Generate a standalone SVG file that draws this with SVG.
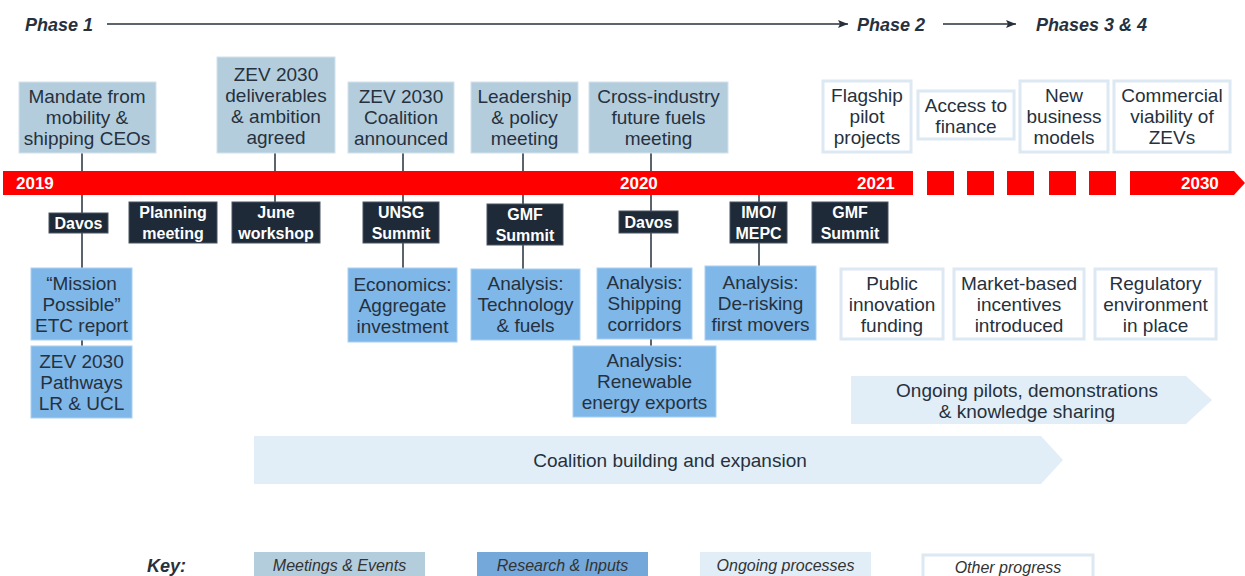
<svg xmlns="http://www.w3.org/2000/svg" width="1245" height="576" viewBox="0 0 1245 576">
<defs>
<style>
text{font-family:"Liberation Sans",Arial,sans-serif}
.ph{font-size:18px;font-weight:bold;font-style:italic;fill:#26313d}
.yr{font-size:17px;font-weight:bold;fill:#fff}
.nt{font-size:19px;fill:#26313d;text-anchor:middle}
.dt{font-size:16px;font-weight:bold;fill:#fff;text-anchor:middle}
.kt{font-size:16px;font-style:italic;fill:#333;text-anchor:middle}
.meet{fill:#b4cddd;stroke:#d3e2ec;stroke-width:1}
.res{fill:#7fb7e9;stroke:#a9cff2;stroke-width:1}
.dark{fill:#1e2a38;stroke:#4a5562;stroke-width:1}
.other{fill:#fff;stroke:#dce8f2;stroke-width:3}
.ong{fill:#e1eef7}
.bar{fill:#ff0000}
.con{stroke:#26313d;stroke-width:1.5;fill:none}
</style>
<marker id="ah" viewBox="0 0 10 10" refX="10" refY="5" markerWidth="10" markerHeight="10" markerUnits="userSpaceOnUse" orient="auto">
<path d="M0,1 L10,5 L0,9 L2,5 Z" fill="#26313d"/>
</marker>
</defs>

<g id="phases">
<text class="ph" x="25" y="31">Phase 1</text>
<line x1="107" y1="24" x2="848" y2="24" stroke="#26313d" stroke-width="1.5" marker-end="url(#ah)"/>
<text class="ph" x="857" y="31">Phase 2</text>
<line x1="943" y1="24" x2="1016" y2="24" stroke="#26313d" stroke-width="1.5" marker-end="url(#ah)"/>
<text class="ph" x="1036" y="31">Phases 3 &amp; 4</text>
</g>

<g id="connectors">
<path class="con" d="M82,153V213M82,233V268M82,340V346"/>
<path class="con" d="M275,153V202"/>
<path class="con" d="M403,153V202M403,243V268"/>
<path class="con" d="M523,153V204M523,245V269"/>
<path class="con" d="M651,153V211M651,233V268M651,339V346"/>
<path class="con" d="M759,183V202M759,243V266"/>
</g>

<g id="timeline">
<rect class="bar" x="3" y="171" width="910" height="24"/>
<rect class="bar" x="927" y="171" width="27" height="24"/>
<rect class="bar" x="967" y="171" width="27" height="24"/>
<rect class="bar" x="1007" y="171" width="27" height="24"/>
<rect class="bar" x="1049" y="171" width="27" height="24"/>
<rect class="bar" x="1089" y="171" width="27" height="24"/>
<polygon class="bar" points="1130,171 1234,171 1245,183 1234,195 1130,195"/>
<text class="yr" x="16" y="189">2019</text>
<text class="yr" x="620" y="189">2020</text>
<text class="yr" x="857" y="189">2021</text>
<text class="yr" x="1181" y="189">2030</text>
</g>

<g id="mandate"><rect class="meet" x="19" y="82" width="137" height="71"/>
<text class="nt" x="87" y="103">Mandate from</text><text class="nt" x="87" y="124">mobility &amp;</text><text class="nt" x="87" y="145">shipping CEOs</text></g>
<g id="zev-deliverables"><rect class="meet" x="217" y="57" width="118" height="96"/>
<text class="nt" x="276" y="81">ZEV 2030</text><text class="nt" x="276" y="102">deliverables</text><text class="nt" x="276" y="123">&amp; ambition</text><text class="nt" x="276" y="144">agreed</text></g>
<g id="coalition-announced"><rect class="meet" x="348" y="82" width="106" height="71"/>
<text class="nt" x="401" y="103">ZEV 2030</text><text class="nt" x="401" y="124">Coalition</text><text class="nt" x="401" y="145">announced</text></g>
<g id="leadership"><rect class="meet" x="471" y="82" width="107" height="71"/>
<text class="nt" x="524.5" y="103">Leadership</text><text class="nt" x="524.5" y="124">&amp; policy</text><text class="nt" x="524.5" y="145">meeting</text></g>
<g id="cross-industry"><rect class="meet" x="589" y="82" width="139" height="71"/>
<text class="nt" x="658.5" y="103">Cross-industry</text><text class="nt" x="658.5" y="124">future fuels</text><text class="nt" x="658.5" y="145">meeting</text></g>

<g id="flagship"><rect class="other" x="823" y="81" width="88" height="71"/>
<text class="nt" x="867" y="102">Flagship</text><text class="nt" x="867" y="123">pilot</text><text class="nt" x="867" y="144">projects</text></g>
<g id="access"><rect class="other" x="918" y="91" width="96" height="48"/>
<text class="nt" x="966" y="112">Access to</text><text class="nt" x="966" y="133">finance</text></g>
<g id="new-business"><rect class="other" x="1020" y="81" width="88" height="71"/>
<text class="nt" x="1064" y="102">New</text><text class="nt" x="1064" y="123">business</text><text class="nt" x="1064" y="144">models</text></g>
<g id="commercial"><rect class="other" x="1114" y="81" width="116" height="71"/>
<text class="nt" x="1172" y="102">Commercial</text><text class="nt" x="1172" y="123">viability of</text><text class="nt" x="1172" y="144">ZEVs</text></g>

<g id="davos-2019"><rect class="dark" x="49" y="213" width="59" height="20"/><text class="dt" x="78.5" y="229">Davos</text></g>
<g id="planning"><rect class="dark" x="129" y="202" width="88" height="41"/><text class="dt" x="173" y="217.5">Planning</text><text class="dt" x="173" y="238.5">meeting</text></g>
<g id="june"><rect class="dark" x="232" y="202" width="88" height="41"/><text class="dt" x="276" y="217.5">June</text><text class="dt" x="276" y="238.5">workshop</text></g>
<g id="unsg"><rect class="dark" x="363" y="202" width="76" height="41"/><text class="dt" x="401" y="217.5">UNSG</text><text class="dt" x="401" y="238.5">Summit</text></g>
<g id="gmf-2019"><rect class="dark" x="487" y="204" width="76" height="41"/><text class="dt" x="525" y="219.5">GMF</text><text class="dt" x="525" y="240.5">Summit</text></g>
<g id="davos-2020"><rect class="dark" x="619" y="211" width="59" height="22"/><text class="dt" x="648.5" y="227.5">Davos</text></g>
<g id="imo"><rect class="dark" x="730" y="202" width="57" height="41"/><text class="dt" x="758.5" y="217.5">IMO/</text><text class="dt" x="758.5" y="238.5">MEPC</text></g>
<g id="gmf-2021"><rect class="dark" x="812" y="202" width="76" height="41"/><text class="dt" x="850" y="217.5">GMF</text><text class="dt" x="850" y="238.5">Summit</text></g>

<g id="mission"><rect class="res" x="31" y="268" width="101" height="72"/>
<text class="nt" x="81.5" y="290">“Mission</text><text class="nt" x="81.5" y="311">Possible”</text><text class="nt" x="81.5" y="332">ETC report</text></g>
<g id="pathways"><rect class="res" x="31" y="346" width="101" height="72"/>
<text class="nt" x="81.5" y="368">ZEV 2030</text><text class="nt" x="81.5" y="389">Pathways</text><text class="nt" x="81.5" y="410">LR &amp; UCL</text></g>
<g id="economics"><rect class="res" x="348" y="268" width="109" height="74"/>
<text class="nt" x="402.5" y="291">Economics:</text><text class="nt" x="402.5" y="312">Aggregate</text><text class="nt" x="402.5" y="333">investment</text></g>
<g id="technology"><rect class="res" x="471" y="269" width="109" height="71"/>
<text class="nt" x="525.5" y="290">Analysis:</text><text class="nt" x="525.5" y="311">Technology</text><text class="nt" x="525.5" y="332">&amp; fuels</text></g>
<g id="shipping"><rect class="res" x="597" y="268" width="95" height="71"/>
<text class="nt" x="644.5" y="289">Analysis:</text><text class="nt" x="644.5" y="310">Shipping</text><text class="nt" x="644.5" y="331">corridors</text></g>
<g id="renewable"><rect class="res" x="573" y="346" width="143" height="71"/>
<text class="nt" x="644.5" y="367">Analysis:</text><text class="nt" x="644.5" y="388">Renewable</text><text class="nt" x="644.5" y="409">energy exports</text></g>
<g id="derisking"><rect class="res" x="705" y="266" width="111" height="74"/>
<text class="nt" x="760.5" y="289">Analysis:</text><text class="nt" x="760.5" y="310">De-risking</text><text class="nt" x="760.5" y="331">first movers</text></g>

<g id="public"><rect class="other" x="841" y="269" width="102" height="70"/>
<text class="nt" x="892" y="290">Public</text><text class="nt" x="892" y="311">innovation</text><text class="nt" x="892" y="332">funding</text></g>
<g id="market"><rect class="other" x="954" y="269" width="130" height="70"/>
<text class="nt" x="1019" y="290">Market-based</text><text class="nt" x="1019" y="311">incentives</text><text class="nt" x="1019" y="332">introduced</text></g>
<g id="regulatory"><rect class="other" x="1095" y="269" width="121" height="70"/>
<text class="nt" x="1155.5" y="290">Regulatory</text><text class="nt" x="1155.5" y="311">environment</text><text class="nt" x="1155.5" y="332">in place</text></g>

<g id="pilots"><polygon class="ong" points="851,376 1186,376 1212,400 1186,424 851,424"/>
<text class="nt" x="1027" y="397">Ongoing pilots, demonstrations</text><text class="nt" x="1027" y="418">&amp; knowledge sharing</text></g>
<g id="coalition-building"><polygon class="ong" points="254,436 1041,436 1063,460 1041,484 254,484"/>
<text class="nt" x="670" y="467">Coalition building and expansion</text></g>

<g id="key">
<text class="ph" x="147" y="572">Key:</text>
<rect x="254" y="552" width="171" height="30" fill="#b4cddd"/><text class="kt" x="339.5" y="571">Meetings &amp; Events</text>
<rect x="477" y="552" width="171" height="30" fill="#74a8da"/><text class="kt" x="562.5" y="571">Research &amp; Inputs</text>
<rect x="700" y="552" width="171" height="30" fill="#e1eef7"/><text class="kt" x="785.5" y="571">Ongoing processes</text>
<rect x="923" y="555" width="170" height="30" fill="#fff" stroke="#dce8f2" stroke-width="3"/><text class="kt" x="1008" y="573">Other progress</text>
</g>
</svg>
